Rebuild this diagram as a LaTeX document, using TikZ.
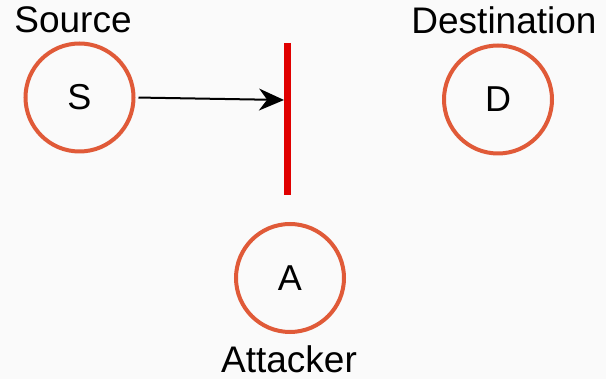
\documentclass[tikz,border=0pt]{standalone}
\usepackage{fontspec}
\setmainfont{Liberation Sans}
\usetikzlibrary{arrows.meta}
\definecolor{bgcol}{HTML}{FAFAFA}
\definecolor{nodecol}{HTML}{E05A38}
\definecolor{barcol}{HTML}{E00000}
\tikzset{
	peer/.style={draw=nodecol, line width=4pt, circle, minimum size=108pt, inner sep=0pt, font=\fontsize{36}{42}\selectfont},
	caption/.style={anchor=base, inner sep=0pt, font=\fontsize{37}{44}\selectfont}
}
\begin{document}
\begin{tikzpicture}[x=1pt, y=-1pt]
		\fill[bgcol] (0,0) rectangle (606,379);
		\useasboundingbox (0,0) rectangle (606,379);
		% the three hosts
		\node[peer] (S) at (79.5,97.5) {S};
		\node[peer] (D) at (498,99.5) {D};
		\node[peer] (A) at (290,278) {A};
		\node[caption] (src) at (73,33) {Source};
		\node[caption] (dst) at (504,34) {Destination};
		\node[caption] (att) at (289,373) {Attacker};
		% barrier in the way of the packet
		\coordinate (top) at (287.5,43);
		\coordinate (bot) at (287.5,195);
		\coordinate (hit) at (284,100);
		\draw[barcol, line width=7pt] (top) -- (bot);
		\draw[line width=2pt, -{Stealth[length=25pt, width=22pt]}, shorten <=3pt] (S.east) -- (hit);
	\end{tikzpicture}
\end{document}
